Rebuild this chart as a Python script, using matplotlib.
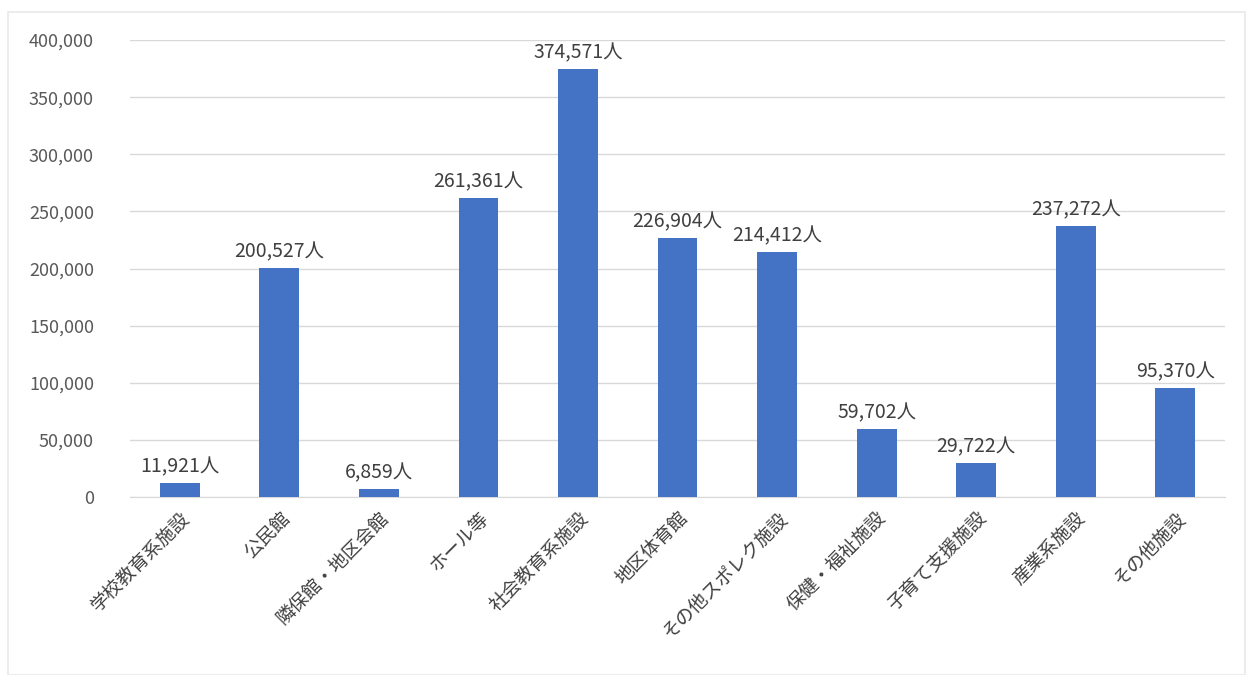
import matplotlib
matplotlib.use("Agg")
import matplotlib.pyplot as plt
from matplotlib.ticker import FuncFormatter
from matplotlib.patches import Rectangle

plt.rcParams['font.family'] = ['Noto Sans CJK JP', 'DejaVu Sans']

categories = ["学校教育系施設", "公民館", "隣保館・地区会館", "ホール等", "社会教育系施設",
              "地区体育館", "その他スポレク施設", "保健・福祉施設", "子育て支援施設",
              "産業系施設", "その他施設"]
values = [11921, 200527, 6859, 261361, 374571, 226904, 214412, 59702, 29722, 237272, 95370]
yticks = [0, 50000, 100000, 150000, 200000, 250000, 300000, 350000, 400000]

fig = plt.figure(figsize=(12.5, 6.75), dpi=100)
fig.patches.append(Rectangle((0.006, 0.0), 0.99, 0.982, transform=fig.transFigure,
                             fill=False, edgecolor="#ececec", linewidth=1.5))
ax = fig.add_axes([0.104, 0.2637, 0.876, 0.677])
x = list(range(len(categories)))
ax.bar(x, values, width=0.4, color="#4472C4", zorder=3)
for xi, v in zip(x, values):
    ax.text(xi, v + 5000, f"{v:,}人", ha="center", va="bottom", fontsize=14, color="#404040")

ax.set_xlim(-0.5, len(categories) - 0.5)
ax.set_ylim(0, 400000)
ax.set_yticks(yticks)
ax.yaxis.set_major_formatter(FuncFormatter(lambda v, p: f"{int(v):,}"))
ax.grid(axis="y", color="#d9d9d9", linewidth=1, zorder=0)
for s in ["top", "right", "left"]:
    ax.spines[s].set_visible(False)
ax.spines["bottom"].set_color("#d9d9d9")
ax.tick_params(axis="y", length=0, labelsize=13, labelcolor="#595959", pad=26)
ax.tick_params(axis="x", length=0, labelsize=13.5, labelcolor="#404040", pad=8)
ax.set_xticks(x)
ax.set_xticklabels(categories, rotation=45, ha="right", rotation_mode="anchor")

fig.savefig("out.png", dpi=100)
